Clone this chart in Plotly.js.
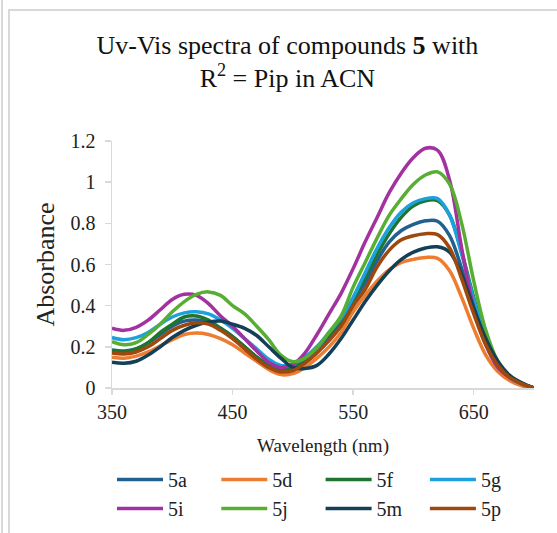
<!DOCTYPE html>
<html>
<head>
<meta charset="utf-8">
<script src="https://cdn.plot.ly/plotly-3.0.1.min.js"></script>
<style>
  html, body { margin: 0; padding: 0; background: #fff; }
  #wrap { position: relative; width: 557px; height: 533px; overflow: hidden; }
  #chart { position: absolute; left: 0; top: 0; width: 557px; height: 533px; }
  .ln { position: absolute; background: #d9d9d9; z-index: 5; }
</style>
</head>
<body>
<div id="wrap">
  <div id="chart"></div>
  <div class="ln" style="left:1px; top:0; width:2px; height:533px;"></div>
  <div class="ln" style="left:8px; top:9px; width:2px; height:524px;"></div>
  <div class="ln" style="left:8px; top:9px; width:549px; height:2px;"></div>
</div>
<script>
// Wavelength grid (nm)
const wavelength = [350,360,370,380,390,400,410,420,430,440,450,460,470,480,490,500,510,520,530,540,550,560,570,580,590,600,610,620,630,640,650,660,670,680,690,700];

const seriesNames = ['5a','5d','5f','5g','5i','5j','5m','5p'];

const abs5a = [0.185,0.18,0.19,0.22,0.26,0.30,0.325,0.33,0.32,0.29,0.25,0.20,0.15,0.11,0.085,0.09,0.13,0.19,0.25,0.32,0.42,0.51,0.62,0.71,0.765,0.795,0.812,0.81,0.74,0.58,0.39,0.22,0.11,0.05,0.02,0.0];
const abs5d = [0.15,0.145,0.155,0.175,0.205,0.235,0.26,0.267,0.26,0.24,0.21,0.17,0.13,0.09,0.065,0.07,0.10,0.145,0.20,0.27,0.37,0.45,0.52,0.575,0.61,0.625,0.634,0.63,0.57,0.44,0.29,0.16,0.08,0.035,0.01,0.0];
const abs5f = [0.18,0.175,0.19,0.22,0.27,0.31,0.345,0.35,0.33,0.29,0.25,0.20,0.15,0.11,0.09,0.10,0.14,0.20,0.26,0.33,0.43,0.54,0.65,0.75,0.83,0.885,0.91,0.91,0.84,0.66,0.44,0.25,0.12,0.055,0.02,0.0];
const abs5g = [0.245,0.235,0.245,0.27,0.31,0.345,0.365,0.37,0.36,0.33,0.29,0.24,0.19,0.14,0.11,0.115,0.15,0.20,0.27,0.34,0.44,0.56,0.68,0.78,0.855,0.90,0.92,0.92,0.84,0.65,0.43,0.24,0.12,0.05,0.02,0.0];
const abs5i = [0.29,0.28,0.295,0.33,0.38,0.43,0.455,0.45,0.41,0.35,0.30,0.24,0.18,0.125,0.10,0.115,0.17,0.26,0.36,0.46,0.58,0.71,0.83,0.95,1.045,1.12,1.165,1.155,1.01,0.68,0.39,0.21,0.10,0.05,0.02,0.0];
const abs5j = [0.225,0.21,0.22,0.26,0.31,0.37,0.42,0.455,0.467,0.45,0.40,0.36,0.30,0.235,0.16,0.128,0.145,0.195,0.27,0.35,0.49,0.61,0.73,0.84,0.92,0.99,1.035,1.05,0.99,0.80,0.52,0.28,0.13,0.06,0.02,0.0];
const abs5m = [0.125,0.12,0.13,0.16,0.20,0.245,0.28,0.305,0.32,0.325,0.31,0.29,0.255,0.20,0.145,0.10,0.095,0.11,0.165,0.24,0.33,0.42,0.50,0.57,0.625,0.66,0.68,0.686,0.66,0.55,0.39,0.24,0.13,0.06,0.025,0.0];
const abs5p = [0.17,0.165,0.175,0.20,0.24,0.28,0.305,0.317,0.31,0.28,0.24,0.19,0.14,0.10,0.078,0.085,0.12,0.17,0.23,0.30,0.40,0.48,0.59,0.67,0.72,0.74,0.75,0.745,0.68,0.53,0.36,0.21,0.11,0.05,0.02,0.0];

const seriesValues = [abs5a, abs5d, abs5f, abs5g, abs5i, abs5j, abs5m, abs5p];
const seriesColors = ['#22608F','#ED7D31','#1E7530','#1BA1DE','#A3319F','#57AE33','#133F57','#9E480E'];

const xTicks = [350,450,550,650];
const yTicks = [0,0.2,0.4,0.6,0.8,1,1.2];
const yTickText = ['0','0.2','0.4','0.6','0.8','1','1.2'];

const serif = 'Liberation Serif, Times New Roman, serif';

const traces = seriesNames.map((n, i) => ({
  type: 'scatter',
  mode: 'lines',
  name: n,
  x: wavelength,
  y: seriesValues[i],
  line: { color: seriesColors[i], width: 3.5, shape: 'spline', smoothing: 1 }
}));

const layout = {
  width: 557,
  height: 533,
  paper_bgcolor: 'rgba(0,0,0,0)',
  plot_bgcolor: 'rgba(0,0,0,0)',
  margin: { l: 112, r: 22.5, t: 140.7, b: 145, autoexpand: false },
  font: { family: serif, color: '#222' },
  title: {
    text: 'Uv-Vis spectra of compounds <b>5</b> with<br>R<sup>2</sup> = Pip in ACN',
    font: { family: serif, size: 26, color: '#111' },
    x: 0.516, xref: 'container', xanchor: 'center',
    y: 1 - 53.5 / 533, yref: 'container', yanchor: 'middle'
  },
  xaxis: {
    range: [350, 700],
    tickvals: xTicks,
    ticktext: xTicks.map(String),
    ticks: 'outside', ticklen: 5, tickcolor: '#d9d9d9', tickwidth: 1.5,
    showline: true, linecolor: '#d9d9d9', linewidth: 1.5,
    showgrid: false, zeroline: false, automargin: false,
    tickfont: { family: serif, size: 20, color: '#222' },
    title: { text: 'Wavelength (nm)', font: { family: serif, size: 19, color: '#222' }, standoff: 17 }
  },
  yaxis: {
    range: [0, 1.2],
    tickvals: yTicks,
    ticktext: yTickText,
    ticks: 'outside', ticklen: 6, tickcolor: '#d9d9d9', tickwidth: 1.5,
    ticklabelstandoff: 5,
    showline: true, linecolor: '#d9d9d9', linewidth: 1.5,
    showgrid: false, zeroline: false, automargin: false,
    tickfont: { family: serif, size: 20, color: '#222' },
    title: { text: 'Absorbance', font: { family: serif, size: 26, color: '#222' }, standoff: 8 }
  },
  showlegend: true,
  legend: {
    orientation: 'h',
    x: 0, xref: 'paper', xanchor: 'left',
    y: 1 - 460 / 533, yref: 'container', yanchor: 'top',
    itemwidth: 46,
    entrywidth: 43.3, entrywidthmode: 'pixels',
    font: { family: serif, size: 20, color: '#222' },
    bgcolor: 'rgba(0,0,0,0)',
    traceorder: 'normal'
  }
};

Plotly.newPlot('chart', traces, layout, { displayModeBar: false, staticPlot: true });
</script>
</body>
</html>
